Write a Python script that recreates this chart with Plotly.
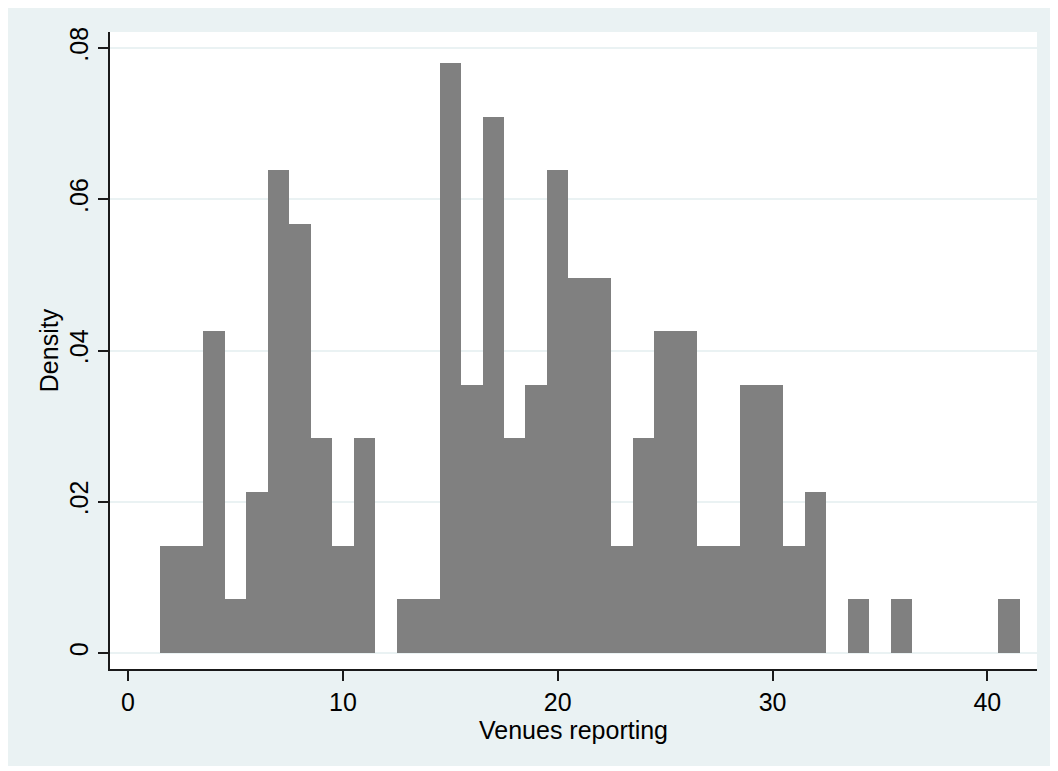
import plotly.graph_objects as go

# Histogram data (bin width 1, centres) – counts per bin, N = 141
bin_centers = [2, 3, 4, 5, 6, 7, 8, 9, 10, 11, 13, 14, 15, 16, 17, 18, 19, 20, 21, 22,
               23, 24, 25, 26, 27, 28, 29, 30, 31, 32, 34, 36, 41]
counts = [2, 2, 6, 1, 3, 9, 8, 4, 2, 4, 1, 1, 11, 5, 10, 4, 5, 9, 7, 7,
          2, 4, 6, 6, 2, 2, 5, 5, 2, 3, 1, 1, 1]
total_n = sum(counts)
density = [c / total_n for c in counts]

y_tickvals = [0, 0.02, 0.04, 0.06, 0.08]
y_ticktext = ["0", ".02", ".04", ".06", ".08"]
x_tickvals = [0, 10, 20, 30, 40]
x_ticktext = ["0", "10", "20", "30", "40"]

BG = "#EAF2F3"
FONT = "Liberation Sans, Arial, Helvetica, sans-serif"

fig = go.Figure()
fig.add_trace(go.Bar(
    x=bin_centers, y=density, width=1,
    marker=dict(color="#808080", line=dict(width=0)),
    showlegend=False,
))

fig.update_layout(
    width=1044, height=758,
    margin=dict(l=102, r=15, t=24, b=97, pad=0),
    paper_bgcolor=BG, plot_bgcolor="white",
    font=dict(family=FONT, size=25, color="black"),
    bargap=0,
    xaxis=dict(
        range=[-0.84, 42.31], tickvals=x_tickvals, ticktext=x_ticktext,
        showgrid=False, zeroline=False,
        showline=True, linecolor="#1a1a1a", linewidth=1.5,
        ticks="outside", ticklen=10, tickwidth=1.5, tickcolor="#1a1a1a",
        tickfont=dict(size=25),
        title=dict(text="Venues reporting", font=dict(size=25), standoff=0),
    ),
    yaxis=dict(
        range=[-0.00212, 0.08212], tickvals=y_tickvals, ticktext=y_ticktext,
        tickangle=-90,
        showgrid=True, gridcolor=BG, gridwidth=2, zeroline=False,
        showline=True, linecolor="#1a1a1a", linewidth=1.5,
        ticks="outside", ticklen=10, tickwidth=1.5, tickcolor="#1a1a1a",
        tickfont=dict(size=25),
        title=dict(text="Density", font=dict(size=25), standoff=0),
    ),
)

fig.write_html("out.html")
